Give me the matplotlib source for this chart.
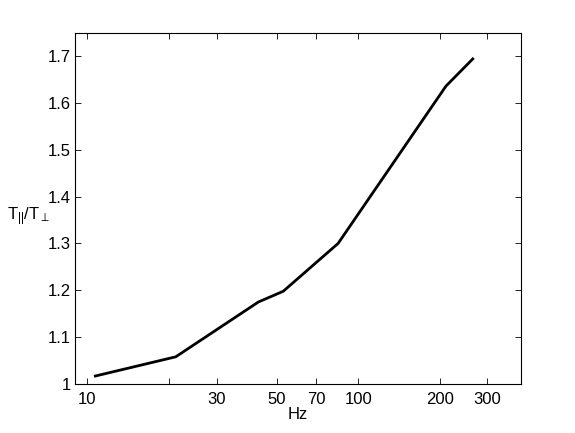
import matplotlib
matplotlib.use("Agg")
import matplotlib.pyplot as plt
from matplotlib.ticker import FixedLocator, FixedFormatter, NullLocator

plt.rcParams['font.family'] = ['Liberation Sans', 'DejaVu Sans']
plt.rcParams['mathtext.fontset'] = 'custom'
plt.rcParams['mathtext.rm'] = 'Liberation Sans'
plt.rcParams['mathtext.it'] = 'Liberation Sans'

freq_hz = [10.7, 21.2, 42.8, 52.9, 84.3, 211, 265]
ratio = [1.017, 1.058, 1.175, 1.198, 1.300, 1.636, 1.694]

xticks = [10, 20, 30, 50, 70, 100, 200, 300]
xticklabels = ['10', '', '30', '50', '70', '100', '200', '300']
yticks = [1.0, 1.1, 1.2, 1.3, 1.4, 1.5, 1.6, 1.7]
yticklabels = ['1', '1.1', '1.2', '1.3', '1.4', '1.5', '1.6', '1.7']

fig = plt.figure(figsize=(5.75, 4.33), dpi=100)
ax = fig.add_axes([0.1304, 0.1132, 0.776, 0.8113])
ax.plot(freq_hz, ratio, color='black', lw=2)
ax.set_xscale('log')
ax.set_xlim(9, 400)
ax.set_ylim(1.0, 1.75)
ax.xaxis.set_major_locator(FixedLocator(xticks))
ax.xaxis.set_major_formatter(FixedFormatter(xticklabels))
ax.xaxis.set_minor_locator(NullLocator())
ax.set_yticks(yticks)
ax.set_yticklabels(yticklabels)
ax.tick_params(direction='in', top=True, right=True, labelsize=12, length=4, width=0.6, pad=3)
ax.tick_params(axis='x', pad=6)
for s in ax.spines.values():
    s.set_linewidth(0.8)
ax.set_xlabel('Hz', fontsize=12, labelpad=0)
ax.set_ylabel(r'T$_{||}$/T$_{\perp}$', fontsize=12, rotation=0, ha='center', va='center')
ax.yaxis.set_label_coords(-0.105, 0.475)
fig.savefig('out.png', dpi=100)
